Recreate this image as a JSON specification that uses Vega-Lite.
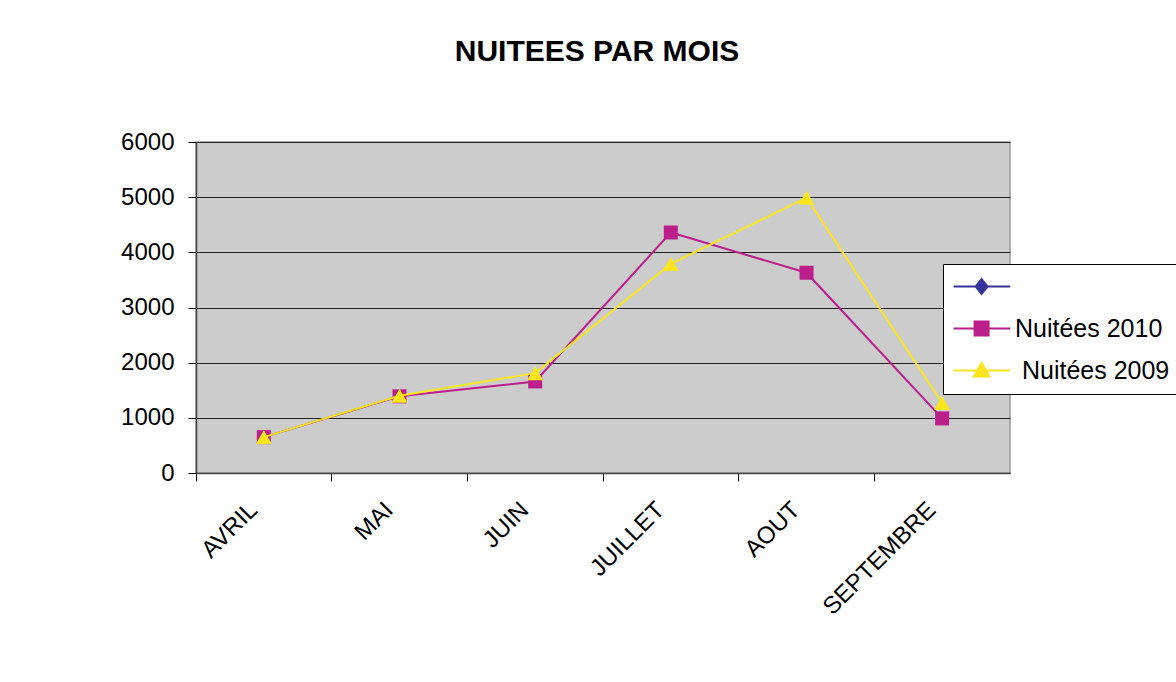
{
  "$schema": "https://vega.github.io/schema/vega-lite/v6.json",
  "width": 814,
  "height": 331,
  "autosize": "none",
  "padding": {"left": 196, "top": 142, "right": 166, "bottom": 209},
  "background": "white",
  "title": {
    "text": "NUITEES PAR MOIS",
    "font": "Liberation Sans",
    "fontSize": 30,
    "fontWeight": "bold",
    "color": "black",
    "anchor": "middle",
    "frame": "group",
    "baseline": "alphabetic",
    "offset": 39,
    "dx": -6
  },
  "config": {
    "view": {"fill": "#CCCCCC", "stroke": "#999999", "strokeWidth": 1.5},
    "axis": {
      "labelFont": "Liberation Sans",
      "labelFontSize": 24,
      "labelColor": "black",
      "domainColor": "#444444",
      "domainWidth": 1.5,
      "tickColor": "black",
      "tickSize": 8,
      "title": null
    }
  },
  "data": {
    "values": [
      {"mois": "AVRIL", "serie": "Nuitées 2010", "v": 650},
      {"mois": "MAI", "serie": "Nuitées 2010", "v": 1390},
      {"mois": "JUIN", "serie": "Nuitées 2010", "v": 1660},
      {"mois": "JUILLET", "serie": "Nuitées 2010", "v": 4360},
      {"mois": "AOUT", "serie": "Nuitées 2010", "v": 3630},
      {"mois": "SEPTEMBRE", "serie": "Nuitées 2010", "v": 990},
      {"mois": "AVRIL", "serie": "\u200b\u00a0Nuitées 2009", "v": 650},
      {"mois": "MAI", "serie": "\u200b\u00a0Nuitées 2009", "v": 1400},
      {"mois": "JUIN", "serie": "\u200b\u00a0Nuitées 2009", "v": 1810},
      {"mois": "JUILLET", "serie": "\u200b\u00a0Nuitées 2009", "v": 3790},
      {"mois": "AOUT", "serie": "\u200b\u00a0Nuitées 2009", "v": 4990},
      {"mois": "SEPTEMBRE", "serie": "\u200b\u00a0Nuitées 2009", "v": 1270}
    ]
  },
  "encoding": {
    "x": {
      "field": "mois",
      "type": "nominal",
      "sort": ["AVRIL", "MAI", "JUIN", "JUILLET", "AOUT", "SEPTEMBRE"],
      "scale": {"type": "band", "paddingInner": 0, "paddingOuter": 0},
      "axis": {
        "bandPosition": 0,
        "labelAngle": -45,
        "labelAlign": "right",
        "labelBaseline": "middle",
        "labelOffset": -10,
        "labelPadding": 25,
        "grid": false
      }
    },
    "y": {
      "field": "v",
      "type": "quantitative",
      "scale": {"domain": [0, 6000], "nice": false},
      "axis": {
        "values": [0, 1000, 2000, 3000, 4000, 5000, 6000],
        "grid": true,
        "gridColor": "#222222",
        "gridWidth": 1,
        "labelPadding": 14,
        "format": "d"
      }
    }
  },
  "layer": [
    {
      "transform": [{"filter": {"field": "serie", "equal": "Nuitées 2010"}}],
      "mark": {
        "type": "line",
        "strokeWidth": 2,
        "color": "#BC1E8C",
        "point": {"shape": "square", "filled": true, "size": 196, "color": "#BC1E8C", "opacity": 1}
      },
      "encoding": {}
    },
    {
      "transform": [{"filter": {"field": "serie", "equal": "\u200b\u00a0Nuitées 2009"}}],
      "mark": {
        "type": "line",
        "strokeWidth": 2,
        "color": "#FAE51E",
        "point": {"shape": "triangle-up", "filled": true, "size": 260, "color": "#FAE51E", "opacity": 1}
      },
      "encoding": {}
    },
    {
      "mark": {"type": "point", "strokeWidth": 2, "opacity": 0},
      "encoding": {
        "shape": {
          "field": "serie",
          "type": "nominal",
          "scale": {
            "domain": [" ", "Nuitées 2010", "\u200b\u00a0Nuitées 2009"],
            "range": [
              "M-1.7,0H6.4M2.3,-1.05L3.15,0L2.3,1.05L1.45,0Z",
              "M-1.7,0H6.4M1.3,-1H3.3V1H1.3Z",
              "M-1.7,0H6.4M2.3,-1.1L3.4,0.85H1.2Z"
            ]
          },
          "legend": {
            "orient": "none",
            "legendX": 747,
            "legendY": 122,
            "title": null,
            "strokeColor": "black",
            "fillColor": "white",
            "padding": 10,
            "symbolSize": 196,
            "symbolStrokeWidth": 2,
            "labelFont": "Liberation Sans",
            "labelFontSize": 25,
            "labelColor": "black",
            "labelOffset": 37,
            "rowPadding": 16,
            "symbolOpacity": 1,
            "encode": {"symbols": {"update": {"opacity": {"value": 1}}}}
          }
        },
        "fill": {
          "field": "serie",
          "type": "nominal",
          "scale": {"domain": [" ", "Nuitées 2010", "\u200b\u00a0Nuitées 2009"], "range": ["#333399", "#BC1E8C", "#FAE51E"]}
        },
        "stroke": {
          "field": "serie",
          "type": "nominal",
          "scale": {"domain": [" ", "Nuitées 2010", "\u200b\u00a0Nuitées 2009"], "range": ["#333399", "#BC1E8C", "#FAE51E"]}
        }
      }
    }
  ]
}
